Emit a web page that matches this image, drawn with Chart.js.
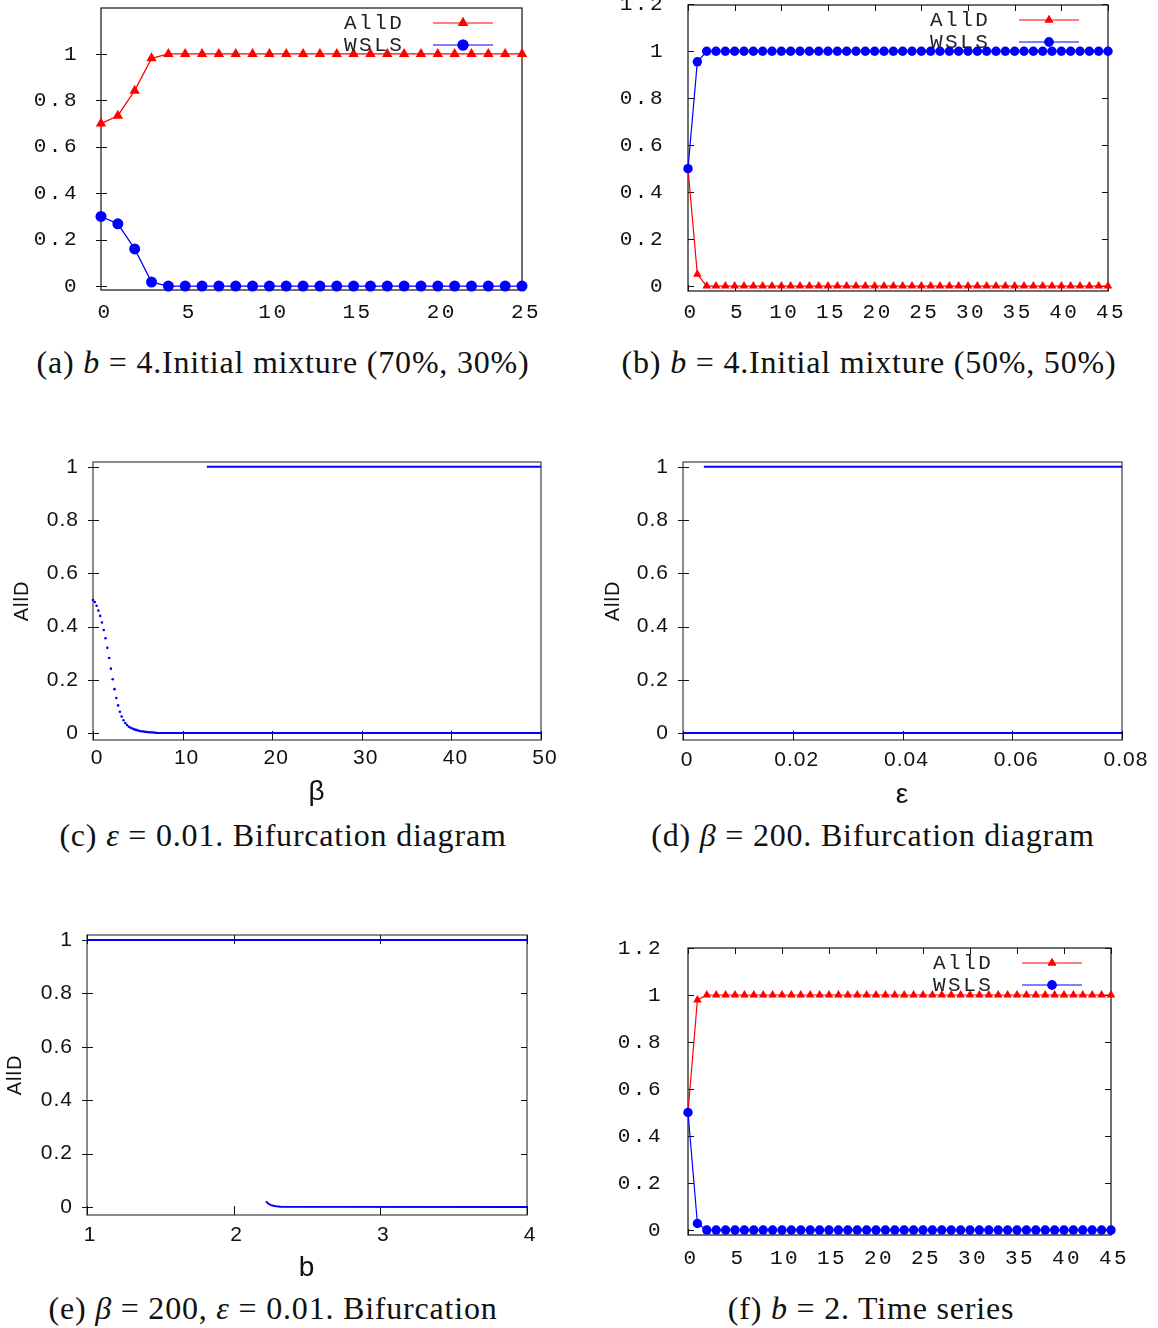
<!DOCTYPE html>
<html>
<head>
<meta charset="utf-8">
<script src="https://cdn.jsdelivr.net/npm/chart.js@4.4.1/dist/chart.umd.min.js"></script>
<style>
  body { margin: 0; background: #fff; width: 1158px; height: 1328px; position: relative; overflow: hidden; }
  canvas { position: absolute; }
  .cap { position: absolute; width: 600px; text-align: center; white-space: nowrap;
         font-family: "Liberation Serif", serif; font-size: 32px; line-height: 34px;
         letter-spacing: 0.8px; color: #111; }
  .cap i { font-style: italic; }
</style>
</head>
<body>
<canvas id="pa"></canvas>
<canvas id="pb"></canvas>
<canvas id="pc"></canvas>
<canvas id="pd"></canvas>
<canvas id="pe"></canvas>
<canvas id="pf"></canvas>

<div class="cap" style="left:-17px; top:345px">(a) <i>b</i> = 4.Initial mixture (70%, 30%)</div>
<div class="cap" style="left:569px; top:345px">(b) <i>b</i> = 4.Initial mixture (50%, 50%)</div>
<div class="cap" style="left:-17px; top:818px">(c) <i>ε</i> = 0.01. Bifurcation diagram</div>
<div class="cap" style="left:573px; top:818px">(d) <i>β</i> = 200. Bifurcation diagram</div>
<div class="cap" style="left:-27px; top:1291px">(e) <i>β</i> = 200, <i>ε</i> = 0.01. Bifurcation</div>
<div class="cap" style="left:571px; top:1291px">(f) <i>b</i> = 2. Time series</div>

<script>
// ---------- data ----------
// (a) b = 4, initial mixture 70/30
const stepsA = [0,1,2,3,4,5,6,7,8,9,10,11,12,13,14,15,16,17,18,19,20,21,22,23,24,25];
const allDA = [0.70,0.734,0.842,0.981,1,1,1,1,1,1,1,1,1,1,1,1,1,1,1,1,1,1,1,1,1,1];
const wslsA = [0.30,0.268,0.16,0.017,0,0,0,0,0,0,0,0,0,0,0,0,0,0,0,0,0,0,0,0,0,0];

// (b) b = 4, initial mixture 50/50
const stepsB = [0,1,2,3,4,5,6,7,8,9,10,11,12,13,14,15,16,17,18,19,20,21,22,
                23,24,25,26,27,28,29,30,31,32,33,34,35,36,37,38,39,40,41,42,43,44,45];
const allDB = [0.5,0.05,0,0,0,0,0,0,0,0,0,0,0,0,0,0,0,0,0,0,0,0,0,
               0,0,0,0,0,0,0,0,0,0,0,0,0,0,0,0,0,0,0,0,0,0,0];
const wslsB = [0.5,0.955,1,1,1,1,1,1,1,1,1,1,1,1,1,1,1,1,1,1,1,1,1,
               1,1,1,1,1,1,1,1,1,1,1,1,1,1,1,1,1,1,1,1,1,1,1];

// (f) b = 2, time series
const stepsF = stepsB;
const allDF = [0.5,0.979,1,1,1,1,1,1,1,1,1,1,1,1,1,1,1,1,1,1,1,1,1,
               1,1,1,1,1,1,1,1,1,1,1,1,1,1,1,1,1,1,1,1,1,1,1];
const wslsF = [0.5,0.028,0,0,0,0,0,0,0,0,0,0,0,0,0,0,0,0,0,0,0,0,0,
               0,0,0,0,0,0,0,0,0,0,0,0,0,0,0,0,0,0,0,0,0,0,0];

// (c) bifurcation over beta
const betaCurve = [0,0.2,0.4,0.6,0.8,1.0,1.2,1.4,1.6,1.8,2.0,2.2,2.4,2.6,2.8,3.0,3.2,3.4,
                   3.6,3.8,4.0,4.2,4.4,4.6,4.8,5.0,5.2,5.4,5.6,5.8,6.0,6.2,6.4,6.6,6.8,7.0];
const allDCurve = [0.500,0.492,0.478,0.460,0.440,0.415,0.387,0.356,0.320,0.282,0.242,0.202,
                   0.165,0.132,0.104,0.080,0.062,0.048,0.038,0.030,0.024,0.020,0.017,0.014,
                   0.012,0.010,0.008,0.007,0.006,0.005,0.004,0.003,0.003,0.002,0.002,0.001];
const betaLow = [7, 50];
const allDLowC = [0, 0];
const betaHigh = [12.7, 50];
const allDHighC = [1, 1];

// (d) bifurcation over epsilon
const epsLow = [0, 0.08];
const allDLowD = [0, 0];
const epsHigh = [0.0038, 0.08];
const allDHighD = [1, 1];

// (e) bifurcation over b
const bHigh = [1, 4];
const allDHighE = [1, 1];
const bLow = [2.22, 2.235, 2.25, 2.27, 2.29, 2.32, 4];
const allDLowE = [0.021, 0.013, 0.008, 0.005, 0.003, 0.001, 0];

// ticks
const yTicksTS = [0, 0.2, 0.4, 0.6, 0.8, 1];
const yLabelsTS = ['0', '0.2', '0.4', '0.6', '0.8', '1'];
const yTicksTS12 = [0, 0.2, 0.4, 0.6, 0.8, 1, 1.2];
const yLabelsTS12 = ['0', '0.2', '0.4', '0.6', '0.8', '1', '1.2'];
const xTicksA = [0, 5, 10, 15, 20, 25];
const xTicksB = [0, 5, 10, 15, 20, 25, 30, 35, 40, 45];
const xTicksC = [0, 10, 20, 30, 40, 50];
const xTicksD = [0, 0.02, 0.04, 0.06, 0.08];
const xLabelsD = ['0', '0.02', '0.04', '0.06', '0.08'];
const xTicksE = [1, 2, 3, 4];

// ---------- helpers ----------
const RED = '#ff0000', BLUE = '#0000ff';
const MONO = '"Liberation Mono", monospace';
const SANS = '"Liberation Sans", Arial, sans-serif';

const pts = (xs, ys) => xs.map((x, i) => ({x: x, y: ys[i]}));

// gnuplot-like frame with inward ticks
const frame = {
  id: 'frame',
  beforeDatasetsDraw(chart, args, o) {
    const {ctx, chartArea: a, scales: {x, y}} = chart;
    ctx.save();
    ctx.strokeStyle = o.border;
    ctx.lineWidth = o.bw;
    ctx.strokeRect(a.left, a.top, a.right - a.left, a.bottom - a.top);
    ctx.strokeStyle = '#111';
    ctx.lineWidth = 1;
    ctx.beginPath();
    y.ticks.forEach(t => {
      const p = Math.round(y.getPixelForValue(t.value)) + 0.5;
      ctx.moveTo(a.left - o.out, p); ctx.lineTo(a.left + o.len, p);
      if (o.mirror) { ctx.moveTo(a.right - o.len, p); ctx.lineTo(a.right, p); }
    });
    x.ticks.forEach(t => {
      const p = Math.round(x.getPixelForValue(t.value)) + 0.5;
      ctx.moveTo(p, a.bottom); ctx.lineTo(p, a.bottom - o.xlen);
      if (o.mirror) { ctx.moveTo(p, a.top); ctx.lineTo(p, a.top + o.xlen); }
    });
    ctx.stroke();
    ctx.restore();
  }
};

// key in the top-right corner: text, then a line sample with its marker
const keyBox = {
  id: 'keyBox',
  afterDatasetsDraw(chart, args, o) {
    if (!o.show) return;
    const {ctx, chartArea: a} = chart;
    chart.data.datasets.forEach((ds, i) => {
      const yy = a.top + 15 + i * 22;
      ctx.save();
      ctx.font = '21px ' + MONO;
      ctx.letterSpacing = '2.5px';
      ctx.fillStyle = '#222';
      ctx.textBaseline = 'middle';
      ctx.fillText(ds.label, a.right - 178, yy);
      ctx.strokeStyle = ds.borderColor;
      ctx.lineWidth = 1.2;
      ctx.beginPath();
      ctx.moveTo(a.right - 89, yy); ctx.lineTo(a.right - 29, yy);
      ctx.stroke();
      ctx.fillStyle = ds.backgroundColor;
      Chart.helpers.drawPoint(ctx, {pointStyle: ds.pointStyle, radius: ds.pointRadius, borderWidth: 0}, a.right - 59, yy);
      ctx.fill();
      ctx.restore();
    });
  }
};

const spacing = {
  id: 'spacing',
  beforeDraw(chart, args, o) { chart.ctx.letterSpacing = o.ls || '0px'; }
};

function panel(id, rect, box, cfg) {
  const cv = document.getElementById(id);
  cv.width = rect.w; cv.height = rect.h;
  cv.style.left = rect.x + 'px'; cv.style.top = rect.y + 'px';
  const yW = box.l - rect.x;
  const xH = rect.y + rect.h - box.b;
  const font = {family: cfg.mono ? MONO : SANS, size: cfg.fs};
  const lh = cfg.fs * 1.2;

  new Chart(cv, {
    type: 'line',
    data: {datasets: cfg.datasets},
    options: {
      responsive: false,
      animation: false,
      events: [],
      layout: {padding: {top: box.t - rect.y, right: rect.x + rect.w - box.r, left: 0, bottom: 0}},
      plugins: {
        legend: {display: false},
        tooltip: {enabled: false},
        frame: {border: cfg.mono ? '#111' : '#666', bw: cfg.mono ? 1.2 : 1.5,
                out: cfg.out, len: 6, xlen: cfg.xlen, mirror: cfg.mirror},
        keyBox: {show: cfg.mono},
        spacing: {ls: cfg.mono ? '2.5px' : '1px'}
      },
      scales: {
        x: {
          type: 'linear', min: cfg.xMin, max: cfg.xMax,
          grid: {display: false, drawTicks: false}, border: {display: false},
          afterBuildTicks: s => { s.ticks = cfg.xTicks.map(v => ({value: v})); },
          afterFit: s => { s.height = xH; s.paddingLeft = 0; s.paddingRight = 0; s.paddingTop = 0; s.paddingBottom = 0; },
          ticks: {
            autoSkip: false, maxRotation: 0, color: '#111', font: font,
            padding: cfg.xLabY - box.b - lh / 2, labelOffset: cfg.xShift,
            callback: v => (cfg.xLabels ? cfg.xLabels[cfg.xTicks.indexOf(v)] : String(v))
          },
          title: cfg.xTitle ? {display: true, text: cfg.xTitle, color: '#111',
                               font: {family: SANS, size: 28}, padding: {top: 0, bottom: cfg.xTitlePad}}
                            : {display: false}
        },
        y: {
          type: 'linear', min: cfg.yMin, max: cfg.yMax,
          grid: {display: false, drawTicks: false}, border: {display: false},
          afterBuildTicks: s => { s.ticks = cfg.yTicks.map(v => ({value: v})); },
          afterFit: s => { s.width = yW; s.paddingLeft = 0; s.paddingRight = 0; s.paddingTop = 0; s.paddingBottom = 0; },
          ticks: {
            autoSkip: false, color: '#111', font: font, padding: cfg.yPad,
            callback: v => cfg.yLabels[cfg.yTicks.indexOf(v)]
          },
          title: cfg.yTitle ? {display: true, text: cfg.yTitle, color: '#111',
                               font: {family: SANS, size: 20}, padding: {top: cfg.yTitlePad, bottom: 0}}
                            : {display: false}
        }
      }
    },
    plugins: [spacing, frame, keyBox]
  });
}

function series(label, xs, ys, color, style, r) {
  return {label: label, data: pts(xs, ys), borderColor: color, backgroundColor: color,
          borderWidth: 1.2, pointStyle: style, pointRadius: r, pointBorderWidth: 0,
          pointHoverRadius: r, tension: 0, clip: false, order: style === 'circle' ? 0 : 1};
}

function branch(xs, ys, dotted) {
  return {data: pts(xs, ys), borderColor: BLUE, backgroundColor: BLUE, borderWidth: 2,
          showLine: !dotted, pointRadius: dotted ? 1.3 : 0, pointBorderWidth: 0,
          tension: 0, clip: false};
}

// ---------- panels ----------
panel('pa', {x: 0, y: 0, w: 560, h: 330}, {l: 101, r: 522, t: 8, b: 290}, {
  mono: true, fs: 21, xMin: 0, xMax: 25, yMin: -0.017, yMax: 1.198,
  xTicks: xTicksA, yTicks: yTicksTS, yLabels: yLabelsTS,
  xLabY: 312, xShift: 4, yPad: 22, out: 5, xlen: 0, mirror: false,
  datasets: [series('AllD', stepsA, allDA, RED, 'triangle', 6),
             series('WSLS', stepsA, wslsA, BLUE, 'circle', 5.5)]
});

panel('pb', {x: 580, y: 0, w: 578, h: 330}, {l: 688, r: 1108, t: 4, b: 291}, {
  mono: true, fs: 21, xMin: 0, xMax: 45, yMin: -0.021, yMax: 1.197,
  xTicks: xTicksB, yTicks: yTicksTS12, yLabels: yLabelsTS12,
  xLabY: 312, xShift: 3, yPad: 23, out: 0, xlen: 6, mirror: true,
  datasets: [series('AllD', stepsB, allDB, RED, 'triangle', 5),
             series('WSLS', stepsB, wslsB, BLUE, 'circle', 4.7)]
});

panel('pc', {x: 0, y: 440, w: 580, h: 372}, {l: 93, r: 541, t: 462, b: 740}, {
  mono: false, fs: 21, xMin: 0, xMax: 50, yMin: -0.026, yMax: 1.018,
  xTicks: xTicksC, yTicks: yTicksTS, yLabels: yLabelsTS,
  xLabY: 758, xShift: 4, yPad: 14, out: 5, xlen: 9, mirror: false,
  xTitle: 'β', xTitlePad: 3, yTitle: 'AllD', yTitlePad: 10,
  datasets: [branch(betaCurve, allDCurve, true), branch(betaLow, allDLowC, false),
             branch(betaHigh, allDHighC, false)]
});

panel('pd', {x: 590, y: 440, w: 568, h: 372}, {l: 683, r: 1122, t: 462, b: 740}, {
  mono: false, fs: 21, xMin: 0, xMax: 0.08, yMin: -0.026, yMax: 1.018,
  xTicks: xTicksD, xLabels: xLabelsD, yTicks: yTicksTS, yLabels: yLabelsTS,
  xLabY: 760, xShift: 4, yPad: 14, out: 5, xlen: 9, mirror: false,
  xTitle: 'ε', xTitlePad: 0, yTitle: 'AllD', yTitlePad: 11,
  datasets: [branch(epsLow, allDLowD, false), branch(epsHigh, allDHighD, false)]
});

panel('pe', {x: 0, y: 915, w: 580, h: 370}, {l: 87, r: 527, t: 935, b: 1215}, {
  mono: false, fs: 21, xMin: 1, xMax: 4, yMin: -0.03, yMax: 1.019,
  xTicks: xTicksE, yTicks: yTicksTS, yLabels: yLabelsTS,
  xLabY: 1235, xShift: 3, yPad: 14, out: 5, xlen: 9, mirror: true,
  xTitle: 'b', xTitlePad: 0, yTitle: 'AllD', yTitlePad: 3,
  datasets: [branch(bHigh, allDHighE, false), branch(bLow, allDLowE, false)]
});

panel('pf', {x: 590, y: 930, w: 568, h: 340}, {l: 688, r: 1111, t: 948, b: 1235}, {
  mono: true, fs: 21, xMin: 0, xMax: 45, yMin: -0.021, yMax: 1.2,
  xTicks: xTicksB, yTicks: yTicksTS12, yLabels: yLabelsTS12,
  xLabY: 1258, xShift: 3, yPad: 25, out: 0, xlen: 6, mirror: true,
  datasets: [series('AllD', stepsF, allDF, RED, 'triangle', 5),
             series('WSLS', stepsF, wslsF, BLUE, 'circle', 4.7)]
});
</script>
</body>
</html>
